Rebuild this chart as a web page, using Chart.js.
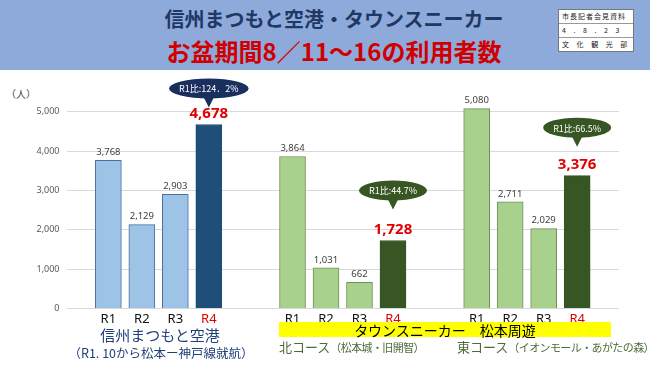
<!DOCTYPE html>
<html>
<head>
<meta charset="utf-8">
<script src="https://cdn.jsdelivr.net/npm/chart.js@4"></script>
<style>
  body { margin: 0; width: 650px; height: 365px; position: relative; overflow: hidden; background: #fff;
         font-family: "Noto Sans CJK JP", "Noto Sans", sans-serif; }
  #head { position: absolute; left: 0; top: 0; width: 650px; height: 70px; background: #8eaadb; }
  .t1 { position: absolute; left: 0; width: 668px; top: 4px; text-align: center; font-size: 20px; font-weight: bold;
        color: #1f3864; }
  .t2 { position: absolute; left: 0; width: 668px; top: 33px; text-align: center; font-size: 24px; font-weight: bold;
        color: #d00000; }
  #stamp { position: absolute; left: 558px; top: 9px; width: 74px; border: 1px solid #777; background: #fff;
           font-size: 7px; color: #222; }
  #stamp div { height: 13px; line-height: 13px; padding-left: 3px; letter-spacing: 3px; border-top: 1px solid #999; }
  #stamp div:first-child { border-top: none; letter-spacing: 1px; }
  #wrap { position: absolute; left: 0; top: 70px; width: 650px; height: 295px; }
  .lbl { position: absolute; white-space: nowrap; }
  .sm { font-size: 11px; letter-spacing: -0.6px; }
</style>
</head>
<body>
<div id="head">
  <div class="t1">信州まつもと空港・タウンスニーカー</div>
  <div class="t2">お盆期間8／11～16の利用者数</div>
  <div id="stamp">
    <div>市長記者会見資料</div>
    <div>4 . 8 . 2 3</div>
    <div>文 化 観 光 部</div>
  </div>
</div>
<div class="lbl" style="left:6px;top:86px;font-size:10px;color:#404040;">（人）</div>
<div id="wrap"><canvas id="myChart"></canvas></div>

<div class="lbl" style="left:60px;width:200px;top:324px;text-align:center;font-size:15px;color:#1f3f7a;">信州まつもと空港</div>
<div class="lbl" style="left:66px;width:190px;top:343px;text-align:center;font-size:12.5px;color:#1f3f7a;">（R1. 10から松本ー神戸線就航）</div>
<div class="lbl" style="left:279px;width:332px;top:322px;height:15px;background:#ffff00;"></div>
<div class="lbl" style="left:279px;width:332px;top:320px;text-align:center;font-size:14px;color:#000;">タウンスニーカー　松本周遊</div>
<div class="lbl" style="left:279px;top:337px;font-size:13px;color:#4e6b3a;">北コース<span class="sm">（松本城・旧開智）</span></div>
<div class="lbl" style="left:457px;top:337px;font-size:13px;color:#4e6b3a;">東コース<span class="sm">（イオンモール・あがたの森）</span></div>

<script>
const years = ['R1', 'R2', 'R3', 'R4'];
const airport = [3768, 2129, 2903, 4678];
const northCourse = [3864, 1031, 662, 1728];
const eastCourse = [5080, 2711, 2029, 3376];
const ratioLabels = ['R1比:124．2%', 'R1比:44.7%', 'R1比:66.5%'];
const yTicks = [0, 1000, 2000, 3000, 4000, 5000];

const groupData = [airport, northCourse, eastCourse];
const lightColor = ['#9dc3e6', '#a9d18e', '#a9d18e'];
const lightBorder = ['#4a6fa5', '#6f9157', '#6f9157'];
const darkColor = ['#1f4e79', '#375623', '#375623'];
const bubbleColor = ['#1b2f5e', '#375623', '#375623'];
const bubbleLift = [17, 31, 29];

// build slots: empty spacers between bars and between groups
let labels = [], values = [], grpIdx = [], yrIdx = [];
const pushEmpty = n => { for (let k = 0; k < n; k++) { labels.push(''); values.push(null); grpIdx.push(-1); yrIdx.push(-1); } };
pushEmpty(2);
groupData.forEach((arr, g) => {
  if (g > 0) pushEmpty(4);
  arr.forEach((v, i) => {
    if (i > 0) pushEmpty(1);
    labels.push(years[i]); values.push(v); grpIdx.push(g); yrIdx.push(i);
  });
});
pushEmpty(2);

const bgColors = values.map((v, i) => grpIdx[i] < 0 ? 'transparent' : (yrIdx[i] === 3 ? darkColor[grpIdx[i]] : lightColor[grpIdx[i]]));
const bdColors = values.map((v, i) => grpIdx[i] < 0 ? 'transparent' : (yrIdx[i] === 3 ? darkColor[grpIdx[i]] : lightBorder[grpIdx[i]]));

const fmt = v => v.toLocaleString('en-US');

const labelPlugin = {
  id: 'labelPlugin',
  afterDatasetsDraw(chart) {
    const ctx = chart.ctx;
    const meta = chart.getDatasetMeta(0);
    ctx.save();
    ctx.textAlign = 'center';
    ctx.textBaseline = 'middle';
    values.forEach((v, i) => {
      if (v === null) return;
      const el = meta.data[i];
      if (yrIdx[i] === 3) {
        ctx.font = 'bold 15px "Noto Sans", sans-serif';
        ctx.fillStyle = '#e00000';
        ctx.fillText(fmt(v), el.x, el.y - 11);
        // speech bubble
        const g = grpIdx[i];
        const tipY = el.y - bubbleLift[g];
        const cy = tipY - 19;
        ctx.font = '9px "Noto Sans CJK JP", sans-serif';
        const w = ctx.measureText(ratioLabels[g]).width;
        const rx = w / 2 + 10, ry = 10;
        ctx.fillStyle = bubbleColor[g];
        ctx.beginPath();
        ctx.ellipse(el.x, cy, rx, ry, 0, 0, Math.PI * 2);
        ctx.fill();
        ctx.beginPath();
        ctx.moveTo(el.x - 6, cy + ry - 3);
        ctx.lineTo(el.x + 6, cy + ry - 3);
        ctx.lineTo(el.x, tipY);
        ctx.closePath();
        ctx.fill();
        ctx.fillStyle = '#fff';
        ctx.fillText(ratioLabels[g], el.x, cy + 0.5);
      } else {
        ctx.font = '9.5px "Noto Sans", sans-serif';
        ctx.fillStyle = '#404040';
        ctx.fillText(fmt(v), el.x, el.y - 8);
      }
    });
    ctx.restore();
  }
};

const ctx = document.getElementById('myChart').getContext('2d');
let myChart = new Chart(ctx, {
  type: 'bar',
  data: {
    labels: labels,
    datasets: [{
      data: values,
      backgroundColor: bgColors,
      borderColor: bdColors,
      borderWidth: 1,
      barThickness: 26
    }]
  },
  options: {
    responsive: true,
    maintainAspectRatio: false,
    animation: false,
    layout: { padding: { left: 29.5, right: 31, top: 32, bottom: 35 } },
    plugins: { legend: { display: false }, tooltip: { enabled: false } },
    scales: {
      x: {
        grid: { display: false, drawTicks: false },
        border: { display: false },
        ticks: {
          autoSkip: false, maxRotation: 0, padding: 3,
          font: { size: 13, family: '"Noto Sans", sans-serif' },
          color: c => labels[c.index] === 'R4' ? '#e00000' : '#111'
        }
      },
      y: {
        min: 0, max: 5250,
        afterBuildTicks: axis => { axis.ticks = yTicks.map(v => ({ value: v })); },
        grid: { color: '#d9d9d9', drawTicks: false },
        border: { display: false },
        ticks: {
          padding: 7,
          font: { size: 9, family: '"Noto Sans", sans-serif' },
          color: '#595959',
          callback: v => fmt(v)
        }
      }
    }
  },
  plugins: [labelPlugin]
});
</script>
</body>
</html>
